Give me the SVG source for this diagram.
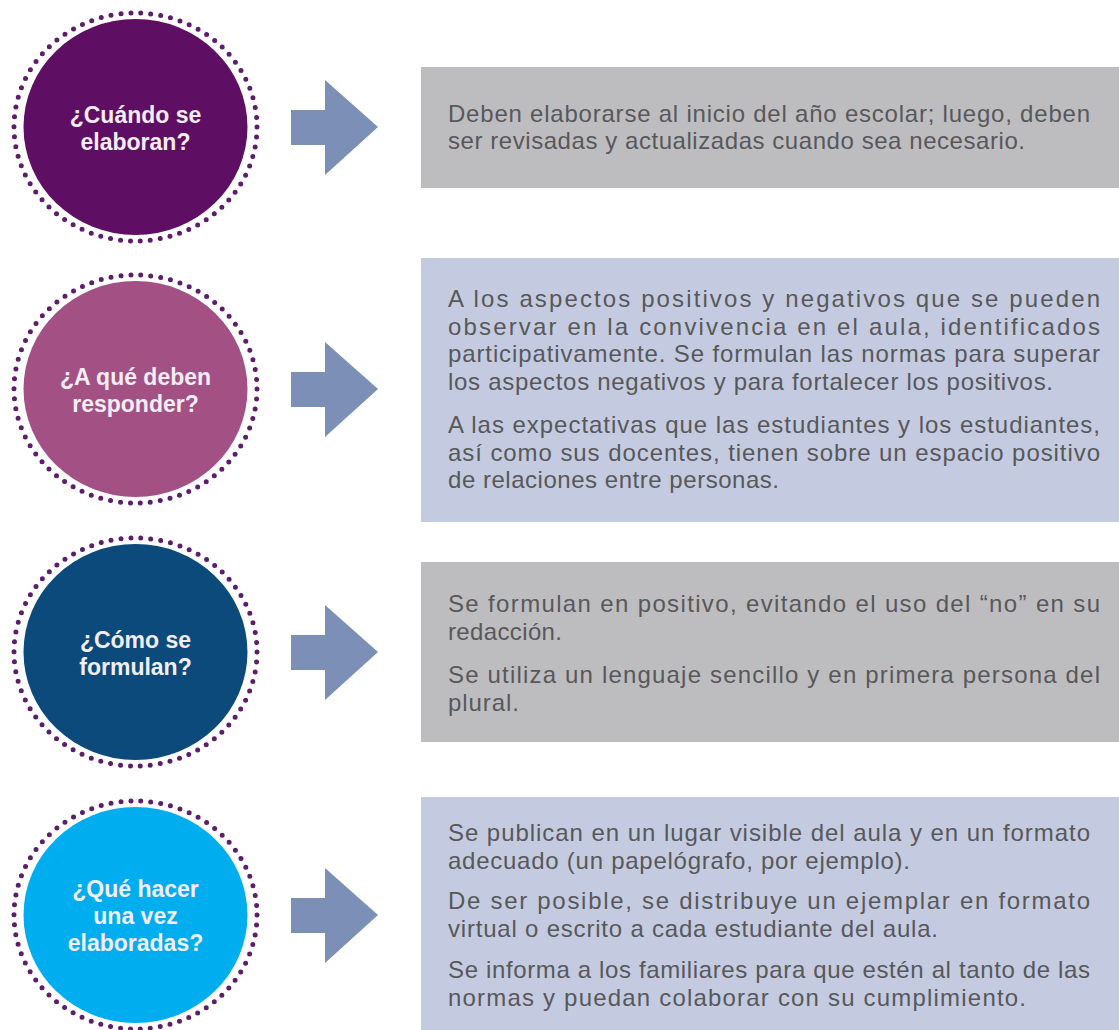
<svg xmlns="http://www.w3.org/2000/svg" width="1119" height="1030" viewBox="0 0 1119 1030">
<style>
.bg{fill:#ffffff}
.ring{fill:none;stroke:#5C1D6B;stroke-width:5;stroke-linecap:round;stroke-dasharray:0 10}
.q{font-family:"Liberation Sans",Arial,sans-serif;font-weight:bold;font-size:23px;fill:#F4EEF4;text-anchor:middle}
.t{font-family:"Liberation Sans",Arial,sans-serif;font-size:24px;fill:#58585A}
.gray{fill:#BDBDC0}
.lav{fill:#C4CBE0}
.arrow{fill:#7B8FB7}
</style>
<rect class="bg" x="0" y="0" width="1119" height="1030"/>

<g id="connectors">
  <polygon class="arrow" points="291,110 325,110 325,80 378,127 325,175 325,145 291,145"/>
  <polygon class="arrow" points="291,372 325,372 325,342 378,389 325,437 325,407 291,407"/>
  <polygon class="arrow" points="291,635 325,635 325,605 378,652 325,700 325,670 291,670"/>
  <polygon class="arrow" points="291,898 325,898 325,868 378,915 325,963 325,933 291,933"/>
</g>

<g id="node-q1">
  <ellipse cx="135.5" cy="127" rx="112" ry="108" fill="#5F0F63"/>
  <ellipse class="ring" cx="135.5" cy="127" rx="121.5" ry="114"/>
  <text class="q" x="135.5" y="123">¿Cuándo se</text>
  <text class="q" x="135.5" y="150">elaboran?</text>
</g>

<g id="node-q2">
  <ellipse cx="135.5" cy="389" rx="112" ry="108" fill="#A35185"/>
  <ellipse class="ring" cx="135.5" cy="389" rx="121.5" ry="114"/>
  <text class="q" x="135.5" y="385">¿A qué deben</text>
  <text class="q" x="135.5" y="412">responder?</text>
</g>

<g id="node-q3">
  <ellipse cx="135.5" cy="652" rx="112" ry="108" fill="#0B4A7A"/>
  <ellipse class="ring" cx="135.5" cy="652" rx="121.5" ry="114"/>
  <text class="q" x="135.5" y="648">¿Cómo se</text>
  <text class="q" x="135.5" y="675">formulan?</text>
</g>

<g id="node-q4">
  <ellipse cx="135.5" cy="915" rx="112" ry="108" fill="#00AEEF"/>
  <ellipse class="ring" cx="135.5" cy="915" rx="121.5" ry="114"/>
  <text class="q" x="135.5" y="897">¿Qué hacer</text>
  <text class="q" x="135.5" y="924">una vez</text>
  <text class="q" x="135.5" y="951">elaboradas?</text>
</g>

<g id="node-a1">
  <rect class="gray" x="421" y="67" width="698" height="121"/>
  <text class="t" x="448" y="121.5" textLength="642" lengthAdjust="spacing">Deben elaborarse al inicio del año escolar; luego, deben</text>
  <text class="t" x="448" y="149" textLength="577" lengthAdjust="spacing">ser revisadas y actualizadas cuando sea necesario.</text>
</g>

<g id="node-a2">
  <rect class="lav" x="421" y="258" width="698" height="264"/>
  <text class="t" x="448" y="307" textLength="652" lengthAdjust="spacing">A los aspectos positivos y negativos que se pueden</text>
  <text class="t" x="448" y="334.5" textLength="652" lengthAdjust="spacing">observar en la convivencia en el aula, identificados</text>
  <text class="t" x="448" y="362" textLength="652" lengthAdjust="spacing">participativamente. Se formulan las normas para superar</text>
  <text class="t" x="448" y="389.5" textLength="605" lengthAdjust="spacing">los aspectos negativos y para fortalecer los positivos.</text>
  <text class="t" x="448" y="433" textLength="652" lengthAdjust="spacing">A las expectativas que las estudiantes y los estudiantes,</text>
  <text class="t" x="448" y="460.5" textLength="652" lengthAdjust="spacing">así como sus docentes, tienen sobre un espacio positivo</text>
  <text class="t" x="448" y="488" textLength="331" lengthAdjust="spacing">de relaciones entre personas.</text>
</g>

<g id="node-a3">
  <rect class="gray" x="421" y="562" width="698" height="180"/>
  <text class="t" x="448" y="612" textLength="652" lengthAdjust="spacing">Se formulan en positivo, evitando el uso del “no” en su</text>
  <text class="t" x="448" y="639.5" textLength="114" lengthAdjust="spacing">redacción.</text>
  <text class="t" x="448" y="683" textLength="652" lengthAdjust="spacing">Se utiliza un lenguaje sencillo y en primera persona del</text>
  <text class="t" x="448" y="710.5" textLength="71" lengthAdjust="spacing">plural.</text>
</g>

<g id="node-a4">
  <rect class="lav" x="421" y="797" width="698" height="233"/>
  <text class="t" x="448" y="841" textLength="642" lengthAdjust="spacing">Se publican en un lugar visible del aula y en un formato</text>
  <text class="t" x="448" y="868.5" textLength="462" lengthAdjust="spacing">adecuado (un papelógrafo, por ejemplo).</text>
  <text class="t" x="448" y="909" textLength="642" lengthAdjust="spacing">De ser posible, se distribuye un ejemplar en formato</text>
  <text class="t" x="448" y="936.5" textLength="490" lengthAdjust="spacing">virtual o escrito a cada estudiante del aula.</text>
  <text class="t" x="448" y="978" textLength="642" lengthAdjust="spacing">Se informa a los familiares para que estén al tanto de las</text>
  <text class="t" x="448" y="1005.5" textLength="578" lengthAdjust="spacing">normas y puedan colaborar con su cumplimiento.</text>
</g>
</svg>
